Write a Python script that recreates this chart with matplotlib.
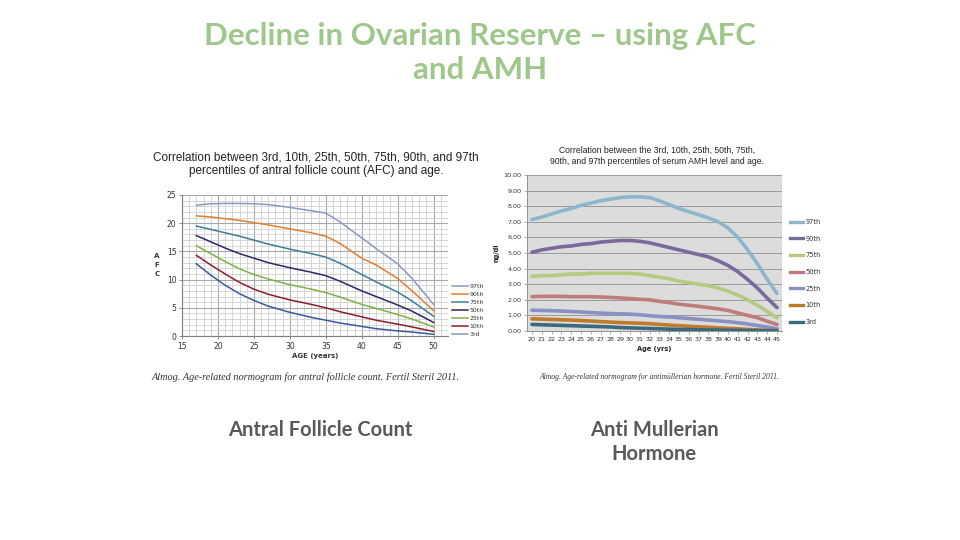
import matplotlib
matplotlib.use("Agg")
import matplotlib.pyplot as plt
from matplotlib.ticker import MultipleLocator

# AFC percentiles by age (left chart)
afc_age = [17, 19, 21, 23, 25, 27, 30, 33, 35, 37, 40, 42, 45, 47, 50]
afc_p97 = [23.2, 23.45, 23.5, 23.5, 23.45, 23.3, 22.8, 22.2, 21.8, 20.2, 17.4, 15.5, 12.8, 10.2, 5.6]
afc_p90 = [21.3, 21.1, 20.8, 20.5, 20.1, 19.7, 19.0, 18.3, 17.7, 16.4, 13.8, 12.6, 10.2, 8.0, 4.5]
afc_p75 = [19.5, 18.9, 18.3, 17.7, 17.0, 16.3, 15.4, 14.6, 14.0, 12.9, 10.9, 9.6, 7.8, 6.2, 3.5]
afc_p50 = [17.8, 16.7, 15.6, 14.6, 13.8, 13.0, 12.1, 11.3, 10.7, 9.7, 8.0, 7.0, 5.5, 4.4, 2.4]
afc_p25 = [16.0, 14.6, 13.2, 11.9, 10.9, 10.1, 9.1, 8.3, 7.7, 6.9, 5.6, 4.9, 3.8, 3.0, 1.6]
afc_p10 = [14.3, 12.6, 11.0, 9.5, 8.3, 7.4, 6.4, 5.6, 5.0, 4.3, 3.4, 2.8, 2.1, 1.6, 0.8]
afc_p3 = [12.8, 10.8, 9.0, 7.5, 6.3, 5.3, 4.2, 3.3, 2.8, 2.3, 1.7, 1.3, 0.9, 0.7, 0.3]

# AMH percentiles by age (right chart)
amh_age = [str(a) for a in range(20, 46)]
amh_p97 = [7.15, 7.3, 7.5, 7.7, 7.85, 8.05, 8.2, 8.35, 8.45, 8.55, 8.6, 8.6, 8.55, 8.35, 8.1,
           7.85, 7.65, 7.45, 7.25, 7.0, 6.6, 6.0, 5.2, 4.3, 3.3, 2.4]
amh_p90 = [5.05, 5.2, 5.3, 5.4, 5.45, 5.55, 5.6, 5.7, 5.75, 5.8, 5.8, 5.75, 5.65, 5.5, 5.35,
           5.2, 5.05, 4.9, 4.75, 4.5, 4.2, 3.8, 3.3, 2.75, 2.1, 1.5]
amh_p75 = [3.5, 3.55, 3.55, 3.6, 3.65, 3.65, 3.7, 3.7, 3.7, 3.7, 3.7, 3.65, 3.55, 3.45, 3.35,
           3.2, 3.1, 3.0, 2.9, 2.75, 2.55, 2.3, 2.0, 1.65, 1.25, 0.85]
amh_p50 = [2.2, 2.22, 2.22, 2.22, 2.2, 2.2, 2.2, 2.18, 2.15, 2.12, 2.08, 2.03, 2.0, 1.9, 1.82,
           1.72, 1.65, 1.58, 1.5, 1.42, 1.32, 1.15, 1.0, 0.85, 0.62, 0.42]
amh_p25 = [1.33, 1.32, 1.3, 1.28, 1.25, 1.22, 1.18, 1.15, 1.12, 1.1, 1.08, 1.04, 0.98, 0.93, 0.9,
           0.85, 0.8, 0.75, 0.7, 0.65, 0.6, 0.53, 0.45, 0.35, 0.25, 0.15]
amh_p10 = [0.78, 0.76, 0.74, 0.72, 0.7, 0.67, 0.64, 0.6, 0.57, 0.54, 0.52, 0.5, 0.47, 0.42, 0.38,
           0.34, 0.3, 0.27, 0.24, 0.2, 0.17, 0.14, 0.1, 0.07, 0.05, 0.03]
amh_p3 = [0.42, 0.4, 0.38, 0.36, 0.34, 0.32, 0.3, 0.28, 0.26, 0.22, 0.2, 0.18, 0.16, 0.14, 0.12,
          0.1, 0.09, 0.08, 0.07, 0.06, 0.05, 0.04, 0.03, 0.02, 0.02, 0.01]

labels = ["97th", "90th", "75th", "50th", "25th", "10th", "3rd"]

fig = plt.figure(figsize=(9.6, 5.4), dpi=100)
fig.patch.set_facecolor("white")

# slide title
fig.text(0.5, 1 - 53 / 540, "Decline in Ovarian Reserve \u2013 using AFC\nand AMH",
         ha="center", va="center", fontsize=22.5, fontweight="bold", family="Lato",
         color="#9DC88A", linespacing=1.3)

# ---------------- left: AFC ----------------
ax1 = fig.add_axes([182 / 960, 1 - 336 / 540, 266 / 960, 141 / 540])
afc_series = [afc_p97, afc_p90, afc_p75, afc_p50, afc_p25, afc_p10, afc_p3]
afc_colors = ["#8798C4", "#E07F2F", "#3C7D98", "#2C2766", "#7CB342", "#8B1E2E", "#3A58A3"]
afc_leg_colors = ["#8798C4", "#E07F2F", "#3C7D98", "#2C2766", "#7CB342", "#8B1E2E", "#8798C4"]
for vals, c in zip(afc_series, afc_colors):
    ax1.plot(afc_age, vals, color=c, lw=1.1)
ax1.set_xlim(15, 52)
ax1.set_ylim(0, 25)
ax1.xaxis.set_major_locator(MultipleLocator(5))
ax1.yaxis.set_major_locator(MultipleLocator(5))
ax1.xaxis.set_minor_locator(MultipleLocator(1))
ax1.yaxis.set_minor_locator(MultipleLocator(1))
ax1.grid(which="minor", color="#D0D0D0", lw=0.6)
ax1.grid(which="major", color="#A8A8A8", lw=0.8)
ax1.set_axisbelow(True)
for s in ["top", "right"]:
    ax1.spines[s].set_visible(False)
for s in ["left", "bottom"]:
    ax1.spines[s].set_color("#808080")
    ax1.spines[s].set_linewidth(0.8)
ax1.tick_params(which="both", length=2, width=0.6, color="#808080", labelsize=5.5,
                labelcolor="#333333", pad=2)
ax1.tick_params(which="minor", length=0)
ax1.set_xlabel("AGE (years)", fontsize=5, fontweight="bold", labelpad=2, color="#333333")
fig.text(157 / 960, 1 - 265 / 540, "A\nF\nC", ha="center", va="center", fontsize=5,
         fontweight="bold", color="#333333", linespacing=1.6)
fig.text(316 / 960, 1 - 164 / 540,
         "Correlation between 3rd, 10th, 25th, 50th, 75th, 90th, and 97th\n"
         "percentiles of antral follicle count (AFC) and age.",
         ha="center", va="center", fontsize=8.5, family="Liberation Sans",
         color="#222222", linespacing=1.2)
leg1 = fig.legend([plt.Line2D([], [], color=c, lw=1.1) for c in afc_leg_colors], labels,
                  loc="upper left", bbox_to_anchor=(452 / 960, 1 - 284 / 540),
                  frameon=False, fontsize=4.5, handlelength=2.6, handletextpad=0.2,
                  labelspacing=0.42, borderaxespad=0, borderpad=0)
for t in leg1.get_texts():
    t.set_color("#333333")
fig.text(152 / 960, 1 - 377 / 540,
         "Almog. Age-related normogram for antral follicle count. Fertil Steril 2011.",
         ha="left", va="center", fontsize=7.4, family="Liberation Serif",
         style="italic", color="#333333")

# ---------------- right: AMH ----------------
ax2 = fig.add_axes([527 / 960, 1 - 331 / 540, 255 / 960, 156 / 540])
ax2.set_facecolor("#DCDCDC")
amh_series = [amh_p97, amh_p90, amh_p75, amh_p50, amh_p25, amh_p10, amh_p3]
amh_colors = ["#8DB6CC", "#7A6A9B", "#B3CB7C", "#BF7D79", "#8891C3", "#C07A2C", "#3B6A7E"]
pos = list(range(len(amh_age)))
for vals, c in zip(amh_series, amh_colors):
    ax2.plot(pos, vals, color=c, lw=2.6, solid_capstyle="round")
ax2.set_xlim(-0.5, len(amh_age) - 0.5)
ax2.set_ylim(0, 10)
ax2.set_xticks(pos)
ax2.set_xticklabels(amh_age)
ax2.set_yticks(range(0, 11))
ax2.set_yticklabels(["%.2f" % v for v in range(0, 11)])
ax2.grid(axis="y", color="#9A9A9A", lw=0.7)
ax2.set_axisbelow(True)
for s in ["top", "right"]:
    ax2.spines[s].set_visible(False)
for s in ["left", "bottom"]:
    ax2.spines[s].set_color("#909090")
    ax2.spines[s].set_linewidth(0.7)
ax2.tick_params(length=2, width=0.5, color="#909090", labelsize=4.6, labelcolor="#333333", pad=2)
ax2.set_xlabel("Age (yrs)", fontsize=4.8, fontweight="bold", labelpad=3, color="#222222")
ax2.set_ylabel("ng/dl", fontsize=4.8, fontweight="bold", labelpad=3, color="#222222")
fig.text(657 / 960, 1 - 156 / 540,
         "Correlation between the 3rd, 10th, 25th, 50th, 75th,\n"
         "90th, and 97th percentiles of serum AMH level and age.",
         ha="center", va="center", fontsize=6.2, family="Liberation Sans",
         color="#222222", linespacing=1.3)
leg2 = fig.legend([plt.Line2D([], [], color=c, lw=2.4) for c in amh_colors], labels,
                  loc="upper left", bbox_to_anchor=(790 / 960, 1 - 219 / 540),
                  frameon=False, fontsize=4.8, handlelength=2.0, handletextpad=0.35,
                  labelspacing=1.6, borderaxespad=0, borderpad=0)
for t in leg2.get_texts():
    t.set_color("#333333")
fig.text(659 / 960, 1 - 377 / 540,
         "Almog. Age-related normogram for antimüllerian hormone. Fertil Steril 2011.",
         ha="center", va="center", fontsize=5.5, family="Liberation Serif",
         style="italic", color="#333333")

# slide captions
fig.text(320 / 960, 1 - 430 / 540, "Antral Follicle Count", ha="center", va="center",
         fontsize=14.5, fontweight="bold", family="Lato", color="#595959")
fig.text(654 / 960, 1 - 442 / 540, "Anti Mullerian\nHormone", ha="center", va="center",
         fontsize=14.5, fontweight="bold", family="Lato", color="#595959", linespacing=1.25)

fig.savefig("out.png", dpi=100)
